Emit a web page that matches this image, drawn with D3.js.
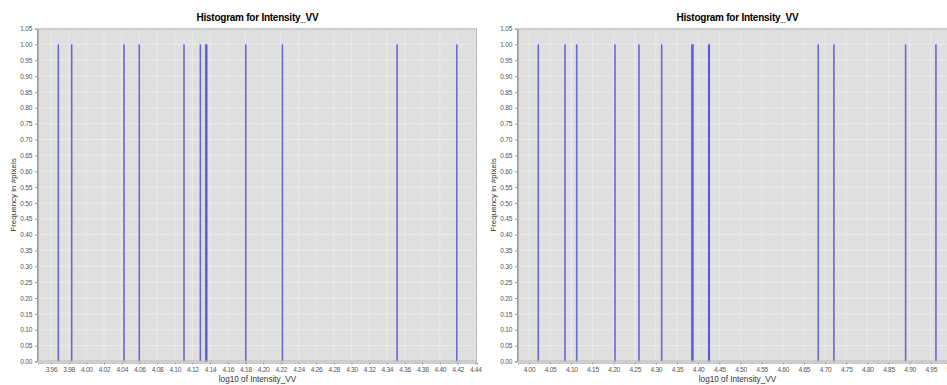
<!DOCTYPE html>
<html><head><meta charset="utf-8">
<script src="https://cdn.jsdelivr.net/npm/d3@7"></script>
<style>
html,body{margin:0;padding:0;background:#fff;}
svg{display:block;}
</style></head>
<body>
<svg id="c" width="947" height="385"></svg>
<script>
// ---- data ----
const chartTitle = "Histogram for Intensity_VV";
const xAxisTitle = "log10 of Intensity_VV";
const yAxisTitle = "Frequency in #pixels";

const leftValues = [3.9683, 3.9834, 4.0426, 4.0599, 4.1105, 4.1290, 4.1351, 4.1362, 4.1804, 4.2218, 4.3516, 4.4192];
const leftCounts = [1, 1, 1, 1, 1, 1, 1, 1, 1, 1, 1, 1];
const leftDomain = [3.9453, 4.4420];
const leftTicks = [3.96,3.98,4.00,4.02,4.04,4.06,4.08,4.10,4.12,4.14,4.16,4.18,4.20,4.22,4.24,4.26,4.28,4.30,4.32,4.34,4.36,4.38,4.40,4.42,4.44];

const rightValues = [4.0220, 4.0851, 4.1128, 4.2033, 4.2600, 4.3137, 4.3850, 4.3877, 4.4250, 4.4262, 4.6839, 4.7210, 4.8905, 4.9622];
const rightCounts = [1, 1, 1, 1, 1, 1, 1, 1, 1, 1, 1, 1, 1, 1];
const rightDomain = [3.974, 5.012];
const rightTicks = [4.00,4.05,4.10,4.15,4.20,4.25,4.30,4.35,4.40,4.45,4.50,4.55,4.60,4.65,4.70,4.75,4.80,4.85,4.90,4.95,5.00];

const yTicks = d3.range(0, 22).map(i => +(i*0.05).toFixed(2));
const yDomain = [0, 1.05];

// ---- drawing ----
const svg = d3.select("#c");
const panelW = 480;
const plot = {left: 38, right: 477, top: 28.5, bottom: 361.5};

function drawChart(offsetX, values, counts, domain, ticks) {
  const g = svg.append("g").attr("transform", `translate(${offsetX},0)`);
  const x = d3.scaleLinear().domain(domain).range([plot.left, plot.right]);
  const y = d3.scaleLinear().domain(yDomain).range([plot.bottom, plot.top]);

  g.append("rect").attr("x", plot.left).attr("y", plot.top)
    .attr("width", plot.right - plot.left).attr("height", plot.bottom - plot.top)
    .attr("fill", "#dfdfdf");

  // gridlines
  g.append("g").selectAll("line").data(ticks).join("line")
    .attr("x1", d => x(d)).attr("x2", d => x(d))
    .attr("y1", plot.top).attr("y2", plot.bottom)
    .attr("stroke", "#eaeaea").attr("stroke-width", 1);
  g.append("g").selectAll("line").data(yTicks).join("line")
    .attr("x1", plot.left).attr("x2", plot.right)
    .attr("y1", d => y(d)).attr("y2", d => y(d))
    .attr("stroke", "#eaeaea").attr("stroke-width", 1);

  // bars
  const bw = 1.6;
  g.append("g").selectAll("rect").data(values.map((v,i)=>({v, c: counts[i]}))).join("rect")
    .attr("x", d => x(d.v) - bw/2).attr("width", bw)
    .attr("y", d => y(d.c)).attr("height", d => y(0) - y(d.c))
    .attr("fill", "#4a4ad0").attr("fill-opacity", 0.8);

  // border
  g.append("rect").attr("x", plot.left + 0.5).attr("y", plot.top + 0.5)
    .attr("width", plot.right - plot.left - 1).attr("height", plot.bottom - plot.top - 1)
    .attr("fill", "none").attr("stroke", "#b5b5b5").attr("stroke-width", 1);

  // axes
  const xAxis = d3.axisBottom(x).tickValues(ticks).tickFormat(d3.format(".2f")).tickSize(2).tickPadding(3);
  const xa = g.append("g").attr("transform", `translate(0,${plot.bottom + 1})`).call(xAxis);
  const yAxis = d3.axisLeft(y).tickValues(yTicks).tickFormat(d3.format(".2f")).tickSize(2).tickPadding(3);
  const ya = g.append("g").attr("transform", `translate(${plot.left - 1},0)`).call(yAxis);
  [xa, ya].forEach(a => {
    a.select(".domain").attr("stroke", "#999");
    a.selectAll(".tick line").attr("stroke", "#999");
    a.selectAll(".tick text").attr("fill", "#555")
      .style("font-family", "'Liberation Sans', Arial, sans-serif")
      .style("font-size", "6.6px").style("letter-spacing", "-0.3px");
  });

  // titles
  g.append("text").attr("x", (plot.left + plot.right)/2).attr("y", 20.5)
    .attr("text-anchor", "middle")
    .style("font-family", "'Liberation Sans', Arial, sans-serif")
    .style("font-size", "10px").style("font-weight", "bold").style("letter-spacing", "-0.25px")
    .attr("fill", "#000").text(chartTitle);
  g.append("text").attr("x", (plot.left + plot.right)/2).attr("y", 382)
    .attr("text-anchor", "middle")
    .style("font-family", "'Liberation Sans', Arial, sans-serif")
    .style("font-size", "8.2px").attr("fill", "#333").text(xAxisTitle);
  g.append("text")
    .attr("transform", `translate(16,${(plot.top + plot.bottom)/2}) rotate(-90)`)
    .attr("text-anchor", "middle")
    .style("font-family", "'Liberation Sans', Arial, sans-serif")
    .style("font-size", "8px").attr("fill", "#333").text(yAxisTitle);
}

drawChart(0, leftValues, leftCounts, leftDomain, leftTicks);
drawChart(panelW, rightValues, rightCounts, rightDomain, rightTicks);
</script>
</body></html>
